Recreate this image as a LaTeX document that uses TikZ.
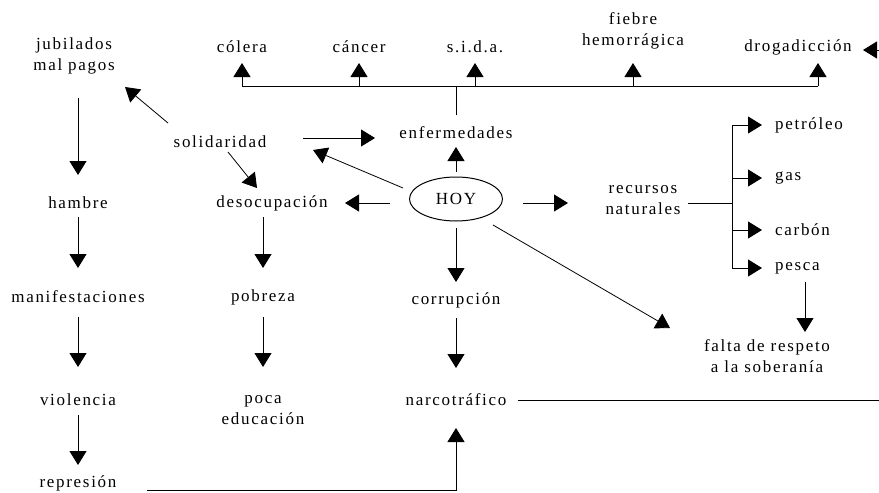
\documentclass[tikz,border=0pt]{standalone}
\usepackage{fontspec}
\setmainfont{Liberation Serif}[LetterSpace=10]
\usetikzlibrary{arrows.meta,shapes.geometric}

\begin{document}
\begin{tikzpicture}[x=1pt, y=-1pt,
    txt/.style = {inner sep=0pt, align=center, font=\fontsize{17}{21}\selectfont},
    linie/.style = {line width=1pt},
    pfeil/.style = {line width=1pt, -{Triangle[length=14pt, width=17pt]}},
    schraeg/.style = {pfeil, line width=0.8pt}]
  \useasboundingbox (0,0) rectangle (879,493);   %Rahmen
  % Knoten
  \node [txt] (jubilados) at (74,56) {jubilados\\mal pagos};
  \node [txt] (colera) at (242,47) {cólera};
  \node [txt] (cancer) at (359,47) {cáncer};
  \node [txt] (sida) at (475,47) {s.i.d.a.};
  \node [txt] (fiebre) at (633,31) {fiebre\\hemorrágica};
  \node [txt] (droga) at (798,47) {drogadicción};
  \node [txt] (enfermedades) at (456,133) {enfermedades};
  \node [txt] (solidaridad) at (220,142) {solidaridad};
  \node [txt, draw, ellipse, line width=1pt, minimum width=93pt, minimum height=44pt] (hoy) at (456,199) {HOY};
  \node [txt] (hambre) at (78,203) {hambre};
  \node [txt] (desocupacion) at (272,203) {desocupación};
  \node [txt] (recursos) at (643,200) {recursos\\naturales};
  \node [txt, anchor=west] (petroleo) at (775,125) {petróleo};
  \node [txt, anchor=west] (gas) at (775,178) {gas};
  \node [txt, anchor=west] (carbon) at (775,230) {carbón};
  \node [txt, anchor=west] (pesca) at (775,268) {pesca};
  \node [txt] (manifestaciones) at (78,297) {manifestaciones};
  \node [txt] (pobreza) at (263,297) {pobreza};
  \node [txt] (corrupcion) at (456,300) {corrupción};
  \node [txt] (falta) at (767,356) {falta de respeto\\a la soberanía};
  \node [txt] (violencia) at (78,400) {violencia};
  \node [txt] (poca) at (263,410) {poca\\educación};
  \node [txt] (narco) at (456,400) {narcotráfico};
  \node [txt] (represion) at (78,483) {represión};
  \coordinate (bus) at (456,86);
  \coordinate (rb) at (732,203);
  \coordinate (rand) at (879,400);
  \coordinate (rand2) at (879,50);
  \coordinate (links) at (863,50);
  \coordinate (dtip) at ([shift={(20,16)}]droga.center);
  % linke Spalte
  \draw [pfeil, shorten <=42pt, shorten >=28pt] (jubilados.center -| hambre.center) -- (hambre.center);
  \draw [pfeil, shorten <=14pt, shorten >=29pt] (hambre.center) -- (manifestaciones.center);
  \draw [pfeil, shorten <=20pt, shorten >=33pt] (manifestaciones.center) -- (violencia.center);
  \draw [pfeil, shorten <=15pt, shorten >=18pt] (violencia.center) -- (represion.center);
  % mittlere Spalten
  \draw [pfeil, shorten <=14pt, shorten >=29pt] (desocupacion.center -| pobreza.center) -- (pobreza.center);
  \draw [pfeil, shorten <=20pt, shorten >=43pt] (pobreza.center) -- (poca.center);
  \draw [pfeil, shorten <=29pt, shorten >=18pt] (hoy.center) -- (corrupcion.center);
  \draw [pfeil, shorten <=18pt, shorten >=32pt] (corrupcion.center) -- (narco.center);
  \draw [pfeil, shorten <=27pt, shorten >=14pt] (hoy.center) -- (enfermedades.center);
  \draw [pfeil] ([shift={(69,7)}]represion.center) -| ([yshift=-28pt]narco.center);
  \draw [linie] ([xshift=62pt]narco.center) -- (rand);
  % Krankheiten
  \draw [linie, shorten <=18pt] (enfermedades.center) -- (bus);
  \draw [linie] (bus -| colera.center) -- (bus -| dtip);
  \foreach \z in {colera, cancer, sida}
    \draw [pfeil] (bus -| \z.center) -- ([yshift=-16pt]\z.center);
  \draw [pfeil] (bus -| fiebre.center) -- ([yshift=-32pt]fiebre.center);
  \draw [pfeil] (bus -| dtip) -- (dtip);
  \draw [pfeil] (rand2) -- (links);
  % Pfeile um HOY
  \draw [schraeg] ([shift={(-52,-19)}]solidaridad.center) -- ([shift={(51,31)}]jubilados.center);
  \draw [pfeil] ([shift={(83,-4)}]solidaridad.center) -- ([shift={(-81,5)}]enfermedades.center);
  \draw [schraeg] ([shift={(8,10)}]solidaridad.center) -- ([shift={(-15,-15)}]desocupacion.center);
  \draw [schraeg] ([shift={(-53,-11)}]hoy.center) -- ([shift={(93,8)}]solidaridad.center);
  \draw [pfeil] ([shift={(-66,4)}]hoy.center) -- ([shift={(73,0)}]desocupacion.center);
  \draw [pfeil] ([shift={(67,4)}]hoy.center) -- ([shift={(-75,3)}]recursos.center);
  \draw [schraeg] ([shift={(37,26)}]hoy.center) -- ([shift={(-97,-28)}]falta.center);
  % Rohstoffe
  \draw [linie] ([shift={(45,3)}]recursos.center) -- (rb);
  \draw [linie] (rb |- petroleo.center) -- (rb |- pesca.center);
  \foreach \r in {petroleo, gas, carbon, pesca}
    \draw [pfeil] (rb |- \r.center) -- ([xshift=-13pt]\r.west);
  \draw [pfeil] ([shift={(30,14)}]pesca.west) -- ([shift={(38,-24)}]falta.center);
\end{tikzpicture}
\end{document}
